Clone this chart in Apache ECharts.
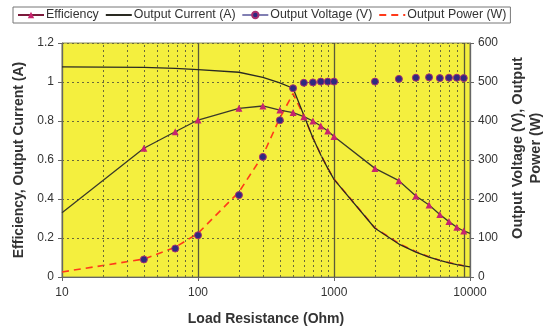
<!DOCTYPE html>
<html><head><meta charset="utf-8">
<script src="https://cdn.jsdelivr.net/npm/echarts@6/dist/echarts.min.js"></script>
<style>html,body{margin:0;padding:0;background:#fff;overflow:hidden}#c{width:547px;height:327px}</style>
</head><body><div id="c"></div>
<script>
// Load resistance (Ohm) for each series
const effR  = [10, 40, 68, 100, 200, 300, 400, 500, 600, 700, 800, 900, 1000, 2000, 3000, 4000, 5000, 6000, 7000, 8000, 9000, 10000];
const effV  = [0.33, 0.66, 0.745, 0.805, 0.865, 0.877, 0.856, 0.843, 0.822, 0.80, 0.774, 0.749, 0.72, 0.557, 0.494, 0.415, 0.369, 0.321, 0.284, 0.255, 0.236, 0.224];
const effMarked = [false, true, true, true, true, true, true, true, true, true, true, true, true, true, true, true, true, true, true, true, true, false];

const curR  = [10, 40, 68, 100, 200, 300, 400, 500, 600, 700, 800, 900, 1000, 2000, 3000, 4000, 5000, 6000, 7000, 8000, 9000, 10000];
const curV  = [1.078, 1.075, 1.07, 1.063, 1.05, 1.024, 0.995, 0.968, 0.83, 0.713, 0.626, 0.557, 0.501, 0.25, 0.169, 0.128, 0.102, 0.085, 0.073, 0.064, 0.057, 0.052];

const voltR = [40, 68, 100, 200, 300, 400, 500, 600, 700, 800, 900, 1000, 2000, 3000, 4000, 5000, 6000, 7000, 8000, 9000];
const voltV = [45, 73, 107, 210, 308, 402, 484, 498, 499, 501, 501, 501, 501, 508, 511, 512, 510, 511, 511, 510];

const powR  = [10, 40, 68, 100, 200, 300, 400, 500, 600, 700, 800, 900, 1000, 2000, 3000, 4000, 5000, 6000, 7000, 8000, 9000, 10000];
const powV  = [13, 46, 76, 112, 218, 312, 408, 470, 413, 356, 314, 279, 251, 126, 86, 65, 52, 43, 37, 33, 29, 26];

const minorGrid = [20, 30, 40, 50, 60, 70, 80, 90, 200, 300, 400, 500, 600, 700, 800, 900, 2000, 3000, 4000, 5000, 6000, 7000, 8000];
const darkGrid = [9000];

const names = ['Efficiency', 'Output Current (A)', 'Output Voltage (V)', 'Output Power (W)'];

const FONT = 'Liberation Sans, Arial, sans-serif';
const pair = (xs, ys) => xs.map((x, i) => [x, ys[i]]);

const chart = echarts.init(document.getElementById('c'), null, {renderer: 'canvas'});
chart.setOption({
  animation: false,
  textStyle: {fontFamily: FONT},
  legend: {
    left: 13, top: 7, width: 510,
    padding: [2, 4, 2, 4],
    itemGap: 6, itemWidth: 26, itemHeight: 8,
    borderColor: '#777', borderWidth: 1, backgroundColor: '#fff',
    textStyle: {fontFamily: FONT, fontSize: 12.4, color: '#333', padding: [0, 0, 0, -3]},
    data: [
      {name: names[0], lineStyle: {color: '#7a1a3a'}},
      {name: names[1], itemStyle: {opacity: 0}},
      {name: names[2], lineStyle: {opacity: 1, width: 1.2, color: '#2e2a80'}},
      {name: names[3], itemStyle: {opacity: 0}}
    ]
  },
  grid: {left: 62, right: 77, top: 43, bottom: 50, show: true, outerBoundsMode: 'none', containLabel: false,
         backgroundColor: '#f4ef3e', borderColor: '#8a8a5a', borderWidth: 1},
  xAxis: {
    type: 'log', logBase: 10, min: 10, max: 10000,
    name: 'Load Resistance (Ohm)', nameLocation: 'middle', nameGap: 35,
    nameTextStyle: {fontFamily: FONT, fontSize: 14, fontWeight: 'bold', color: '#333'},
    axisLine: {lineStyle: {color: '#666', width: 1}},
    axisTick: {show: true, length: 4, lineStyle: {color: '#666'}},
    axisLabel: {fontSize: 12, color: '#333', margin: 10, formatter: v => String(Math.round(v))},
    splitLine: {show: true, lineStyle: {color: '#5a5a3a', width: 1.3}}
  },
  yAxis: [{
    type: 'value', min: 0, max: 1.2, interval: 0.2,
    name: 'Efficiency, Output Current (A)', nameLocation: 'middle', nameGap: 34,
    nameTextStyle: {fontFamily: FONT, fontSize: 14, fontWeight: 'bold', color: '#333'},
    axisLine: {show: true, lineStyle: {color: '#666'}},
    axisTick: {show: true, length: 4, lineStyle: {color: '#666'}},
    axisLabel: {fontSize: 12, color: '#333', margin: 8},
    splitLine: {show: true, lineStyle: {color: '#6a6a3a', type: [2, 3], width: 1}}
  }, {
    type: 'value', min: 0, max: 600, interval: 100, position: 'right',
    name: 'Output Voltage (V), Output\nPower (W)', nameLocation: 'middle', nameGap: 31, nameRotate: 90,
    nameTextStyle: {fontFamily: FONT, fontSize: 14.5, fontWeight: 'bold', color: '#333', lineHeight: 18, padding: [0, 0, 0, 24]},
    axisLine: {show: true, lineStyle: {color: '#666'}},
    axisTick: {show: true, length: 4, lineStyle: {color: '#666'}},
    axisLabel: {fontSize: 12, color: '#333', margin: 8},
    splitLine: {show: false}
  }],
  series: [
    {
      name: 'grid', type: 'line', data: [], silent: true, legendHoverLink: false,
      markLine: {
        silent: true, symbol: 'none', label: {show: false}, animation: false,
        data: minorGrid.map(v => ({xAxis: v, lineStyle: {color: '#6a6a3a', type: [2, 3], width: 1}}))
          .concat(darkGrid.map(v => ({xAxis: v, lineStyle: {color: '#5a5a3a', type: 'solid', width: 1.3}})))
      }
    },
    {
      name: names[3], type: 'line', yAxisIndex: 1, data: pair(powR, powV),
      showSymbol: false, symbol: 'none',
      lineStyle: {color: '#ff3a1a', width: 1.6, type: [7, 5]}, itemStyle: {color: '#ff3a1a'}, z: 3
    },
    {
      name: names[1], type: 'line', yAxisIndex: 0, data: pair(curR, curV),
      symbol: 'none', lineStyle: {color: '#2a2a22', width: 1.3}, itemStyle: {color: '#2a2a22'}, z: 4
    },
    {
      name: names[0], type: 'line', yAxisIndex: 0,
      data: effR.map((x, i) => effMarked[i] ? [x, effV[i]] : {value: [x, effV[i]], symbol: 'none'}),
      symbol: 'triangle', symbolSize: 7, showAllSymbol: true,
      lineStyle: {color: '#3a3a2a', width: 1.3}, itemStyle: {color: '#c8246e'}, z: 5
    },
    {
      name: names[2], type: 'line', yAxisIndex: 1, data: pair(voltR, voltV),
      symbol: 'circle', symbolSize: 7, showAllSymbol: true,
      lineStyle: {opacity: 0, width: 0}, itemStyle: {color: '#2e2a80', borderColor: '#a83070', borderWidth: 1}, z: 6
    }
  ]
});
</script></body></html>
